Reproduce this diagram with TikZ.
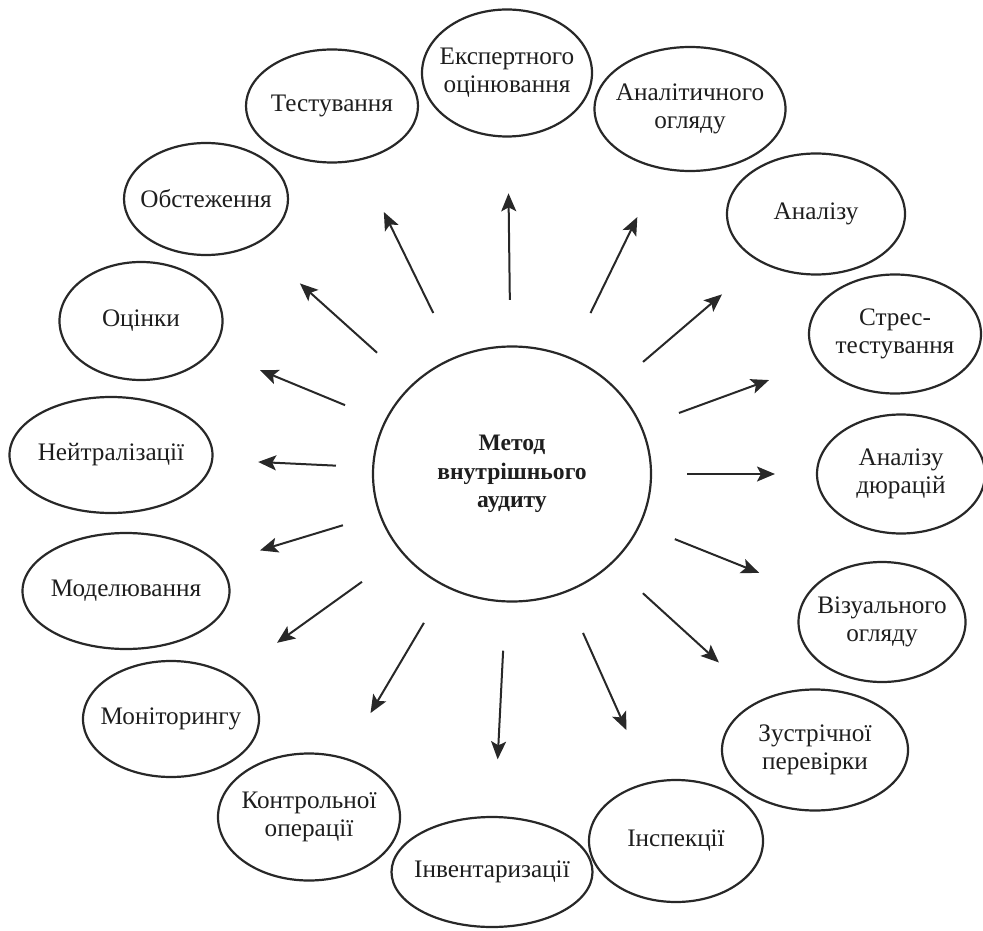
\documentclass[tikz,border=0pt]{standalone}
\usepackage{fontspec}
\setmainfont{Liberation Serif}
\usetikzlibrary{shapes.geometric,arrows.meta,calc}
\definecolor{linec}{RGB}{40,40,40}
\definecolor{textc}{RGB}{30,30,30}
\begin{document}
\begin{tikzpicture}[x=0.5pt,y=-0.5pt,
  ell/.style 2 args={ellipse, draw=linec, line width=1.1pt, minimum width=#1, minimum height=#2, inner sep=0pt},
  lbl/.style={align=center, font=\fontsize{12.6}{14}\selectfont, text=textc, inner sep=0pt},
  lblb/.style={align=center, font=\bfseries\fontsize{11.8}{14.2}\selectfont, text=textc, inner sep=0pt},
  arr/.style={draw=linec, line width=1pt, -{Stealth[length=9pt,width=7.5pt,inset=2pt]}}]
\useasboundingbox (0,0) rectangle (983,930);

\node[ell={139pt}{127.5pt}, label={[lblb]center:{Метод\\внутрішнього\\аудиту}}] (c) at (512,474) {};

\node[ell={85pt}{63.5pt}, label={[lbl]center:{Експертного\\оцінювання}}] (e1) at (507,73) {};
\node[ell={95.5pt}{62pt}, label={[lbl]center:{Аналітичного\\огляду}}] (e2) at (690,109) {};
\node[ell={89pt}{60.5pt}, label={[lbl]center:{Аналізу}}] (e3) at (816,214) {};
\node[ell={86pt}{59.5pt}, label={[lbl]center:{Стрес-\\тестування}}] (e4) at (895,334) {};
\node[ell={84pt}{59.5pt}, label={[lbl]center:{Аналізу\\дюрацій}}] (e5) at (901,474) {};
\node[ell={83.5pt}{60pt}, label={[lbl]center:{Візуального\\огляду}}] (e6) at (882,622) {};
\node[ell={93pt}{60.5pt}, label={[lbl]center:{Зустрічної\\перевірки}}] (e7) at (815,750) {};
\node[ell={87pt}{61pt}, label={[lbl]center:{Інспекції}}] (e8) at (676,841) {};
\node[ell={100.5pt}{55pt}, label={[lbl]center:{Інвентаризації}}] (e9) at (492,872) {};
\node[ell={91pt}{63.5pt}, label={[lbl]center:{Контрольної\\операції}}] (e10) at (309,817) {};
\node[ell={88pt}{58pt}, label={[lbl]center:{Моніторингу}}] (e11) at (171,719) {};
\node[ell={103.5pt}{58pt}, label={[lbl]center:{Моделювання}}] (e12) at (126,591) {};
\node[ell={101.5pt}{58pt}, label={[lbl]center:{Нейтралізації}}] (e13) at (111,455) {};
\node[ell={81.5pt}{59pt}, label={[lbl]center:{Оцінки}}] (e14) at (141,321) {};
\node[ell={82pt}{56pt}, label={[lbl]center:{Обстеження}}] (e15) at (206,199) {};
\node[ell={86pt}{56.5pt}, label={[lbl]center:{Тестування}}] (e16) at (332,106) {};

\draw[arr] ($(c.center)!0.434!(e1.center)$) -- ($(c.center)!0.70!(e1.center)$);
\draw[arr] ($(c.center)!0.441!(e2.center)$) -- ($(c.center)!0.704!(e2.center)$);
\draw[arr] ($(c.center)!0.431!(e3.center)$) -- ($(c.center)!0.691!(e3.center)$);
\draw[arr] ($(c.center)!0.436!(e4.center)$) -- ($(c.center)!0.671!(e4.center)$);
\draw[arr] ($(c.center)!0.45!(e5.center)$) -- ($(c.center)!0.676!(e5.center)$);
\draw[arr] ($(c.center)!0.44!(e6.center)$) -- ($(c.center)!0.668!(e6.center)$);
\draw[arr] ($(c.center)!0.432!(e7.center)$) -- ($(c.center)!0.683!(e7.center)$);
\draw[arr] ($(c.center)!0.433!(e8.center)$) -- ($(c.center)!0.698!(e8.center)$);
\draw[arr] ($(c.center)!0.444!(e9.center)$) -- ($(c.center)!0.717!(e9.center)$);
\draw[arr] ($(c.center)!0.434!(e10.center)$) -- ($(c.center)!0.697!(e10.center)$);
\draw[arr] ($(c.center)!0.44!(e11.center)$) -- ($(c.center)!0.689!(e11.center)$);
\draw[arr] ($(c.center)!0.438!(e12.center)$) -- ($(c.center)!0.653!(e12.center)$);
\draw[arr] ($(c.center)!0.439!(e13.center)$) -- ($(c.center)!0.633!(e13.center)$);
\draw[arr] ($(c.center)!0.45!(e14.center)$) -- ($(c.center)!0.679!(e14.center)$);
\draw[arr] ($(c.center)!0.441!(e15.center)$) -- ($(c.center)!0.693!(e15.center)$);
\draw[arr] ($(c.center)!0.4375!(e16.center)$) -- ($(c.center)!0.712!(e16.center)$);
\end{tikzpicture}
\end{document}
